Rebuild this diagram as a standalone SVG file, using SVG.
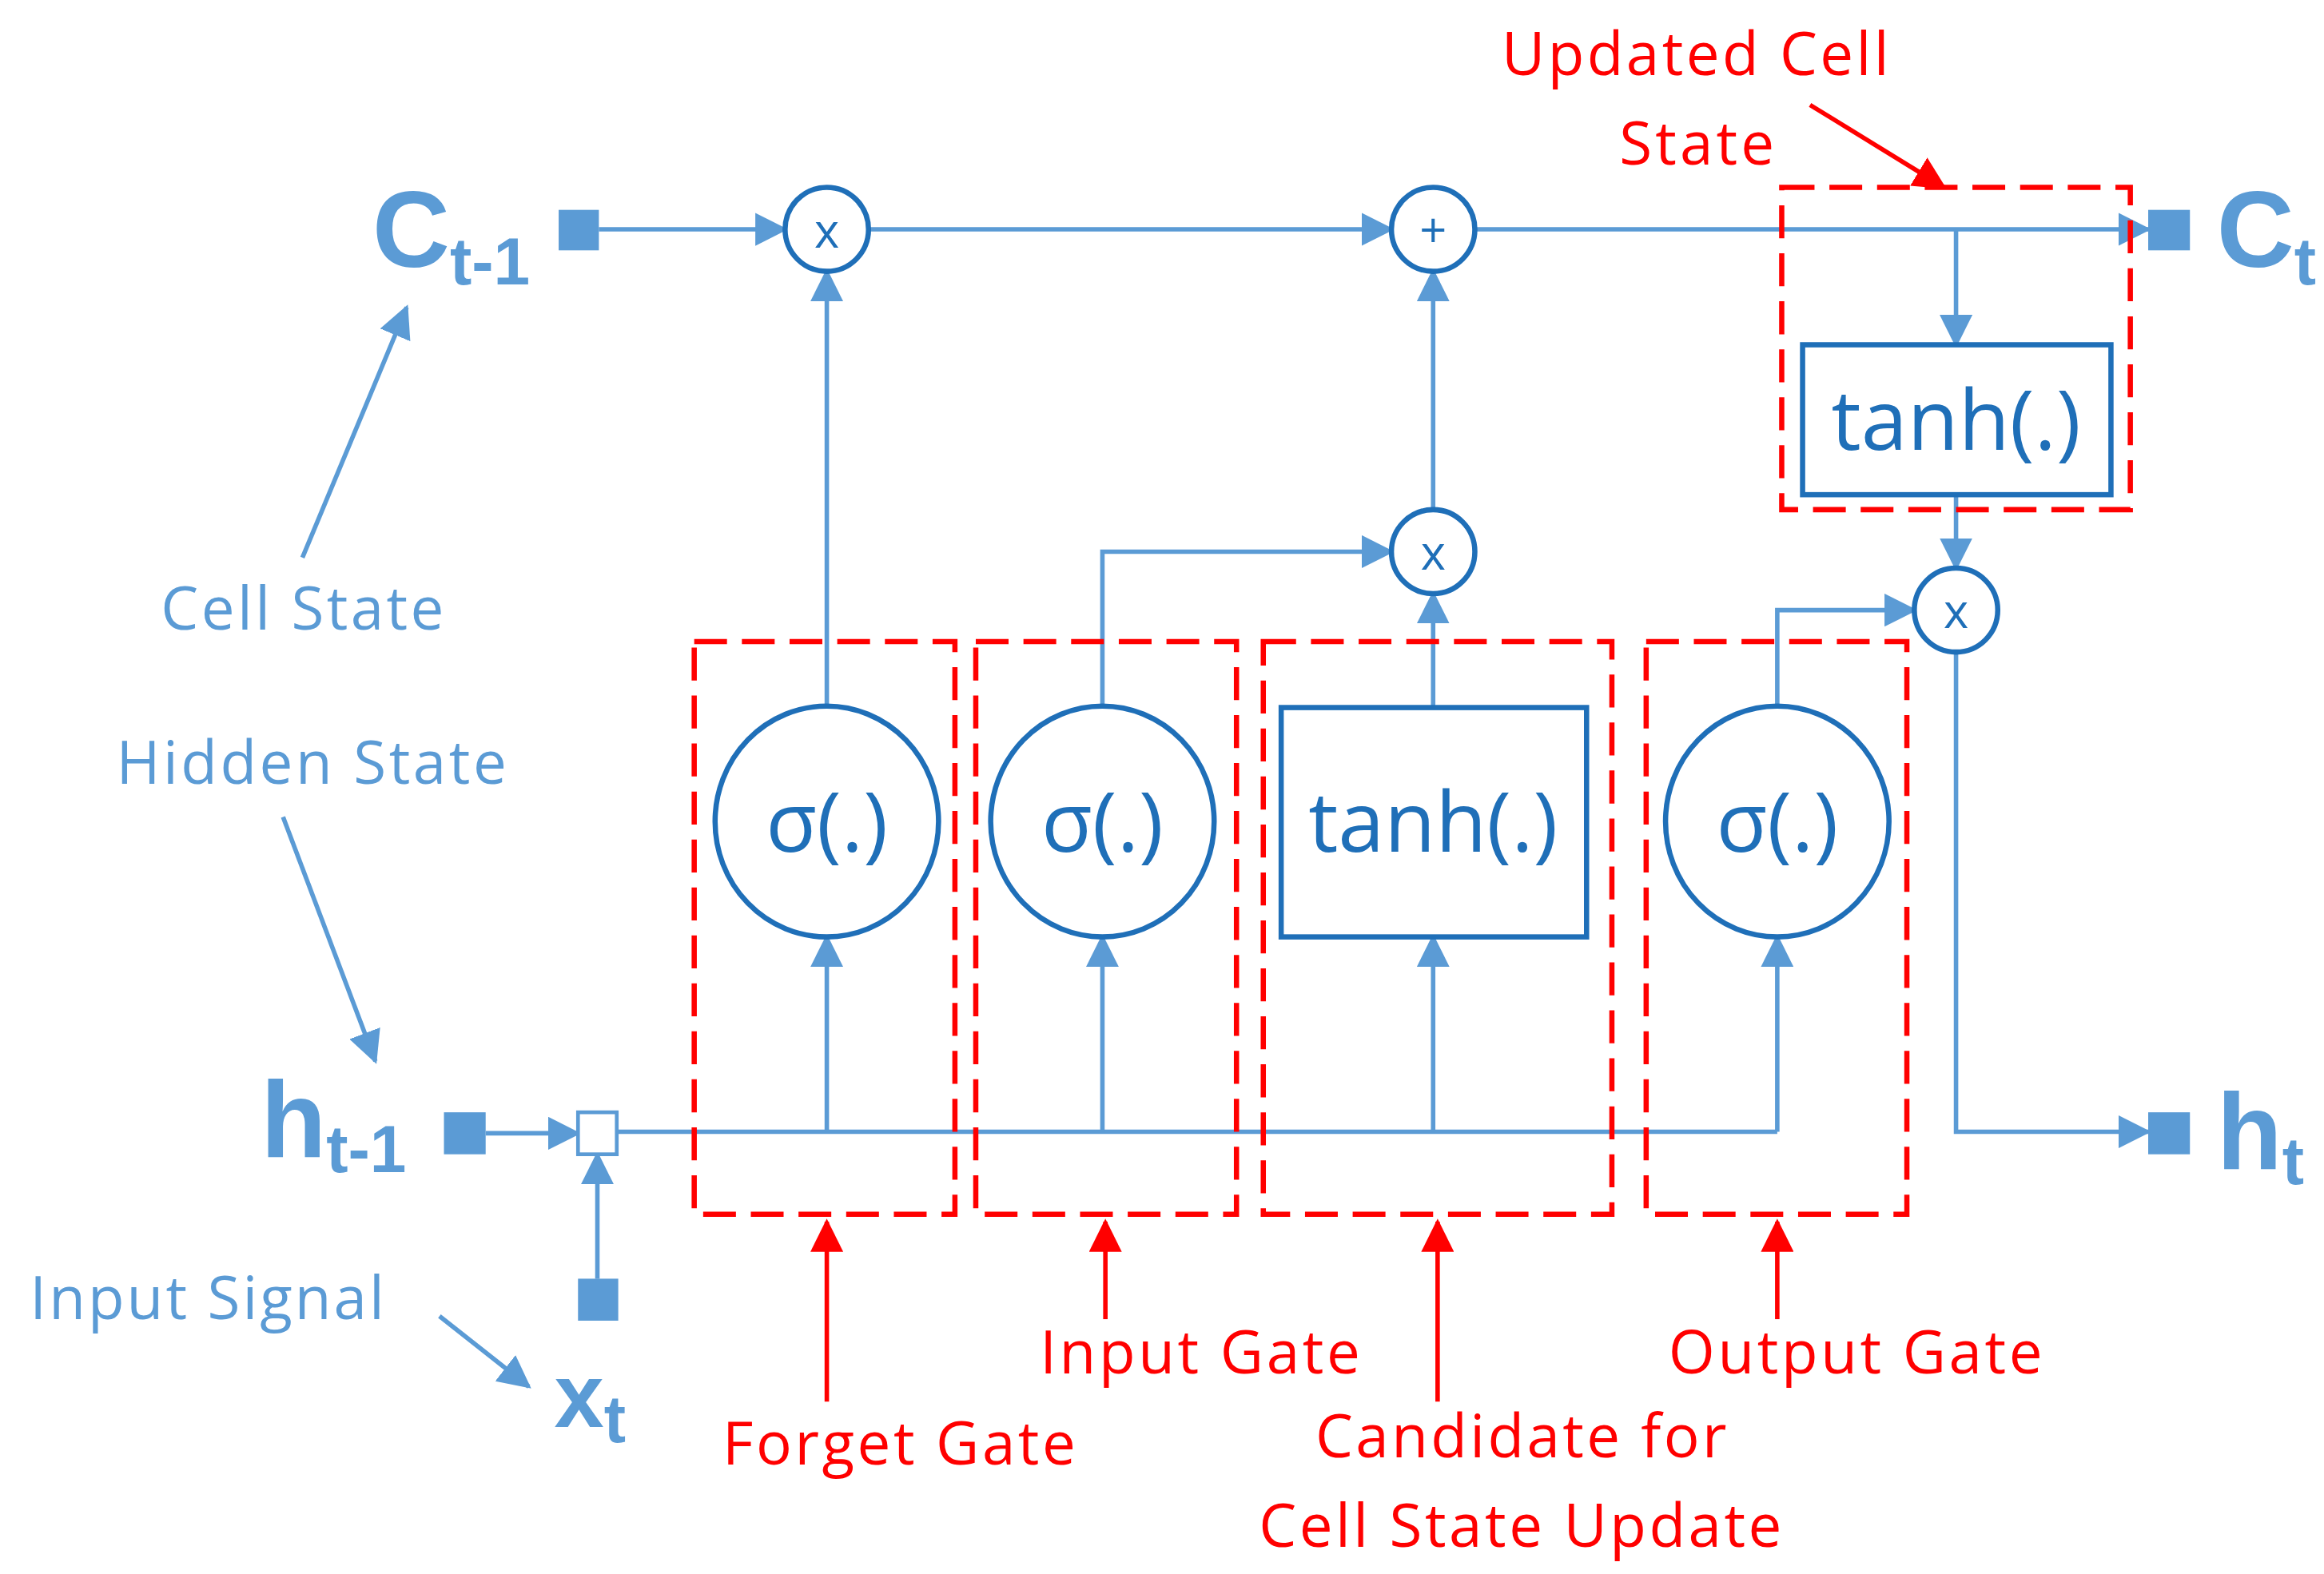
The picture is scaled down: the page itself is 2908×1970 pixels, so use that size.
<svg xmlns="http://www.w3.org/2000/svg" width="2908" height="1970" viewBox="0 0 2908 1970">
<style>
.ln{stroke:#5B9BD5;stroke-width:3;fill:none}
.nd{stroke:#1F6FB8;stroke-width:3.5;fill:#fff}
.rd{stroke:#FF0000;stroke-width:3.5;fill:none;stroke-dasharray:22,10}
.ra{stroke:#FF0000;stroke-width:3;fill:none}
.sq{fill:#5B9BD5}
.bt{font-family:"Open Sans","Liberation Sans",sans-serif;fill:#5B9BD5}
.nt{font-family:"Open Sans","Liberation Sans",sans-serif;fill:#1F6FB8;text-anchor:middle}
.rt{font-family:"Open Sans","Liberation Sans",sans-serif;fill:#FF0000;font-size:40px}
.big{font-family:"Liberation Sans",sans-serif;font-weight:bold;fill:#5B9BD5}
</style>
<defs>
<marker id="ab" markerWidth="8" markerHeight="8" refX="7" refY="4" orient="auto" markerUnits="userSpaceOnUse" viewBox="0 0 8 8"><path d="M0,0L8,4L0,8z" fill="#5B9BD5"/></marker>
<marker id="abig" markerWidth="22" markerHeight="22" refX="20" refY="11" orient="auto" markerUnits="userSpaceOnUse" viewBox="0 0 22 22"><path d="M0,0L22,11L0,22z" fill="#5B9BD5"/></marker>
<marker id="ar" markerWidth="22" markerHeight="22" refX="20" refY="11" orient="auto" markerUnits="userSpaceOnUse" viewBox="0 0 22 22"><path d="M0,0L22,11L0,22z" fill="#FF0000"/></marker>
</defs>
<g transform="scale(1.8641,1.8762)">
<g id="connectors">
<path class="ln" marker-end="url(#abig)" d="M402,153H527"/>
<path class="ln" marker-end="url(#abig)" d="M583,153H934"/>
<path class="ln" marker-end="url(#abig)" d="M990,153H1442"/>
<path class="ln" marker-end="url(#abig)" d="M1313,153V230"/>
<path class="ln" marker-end="url(#abig)" d="M1313,330V379"/>
<path class="ln" marker-end="url(#abig)" d="M1313,435V755H1442"/>
<path class="ln" marker-end="url(#abig)" d="M962,472V396"/>
<path class="ln" marker-end="url(#abig)" d="M962,340V181"/>
<path class="ln" marker-end="url(#abig)" d="M740,471V368H934"/>
<path class="ln" marker-end="url(#abig)" d="M555,471V181"/>
<path class="ln" marker-end="url(#abig)" d="M1193,471V407H1285"/>
<path class="ln" d="M414,755H1193"/>
<path class="ln" marker-end="url(#abig)" d="M555,755V625"/>
<path class="ln" marker-end="url(#abig)" d="M740,755V625"/>
<path class="ln" marker-end="url(#abig)" d="M962,755V625"/>
<path class="ln" marker-end="url(#abig)" d="M1193,755V625"/>
<path class="ln" marker-end="url(#abig)" d="M326,756H388"/>
<path class="ln" marker-end="url(#abig)" d="M401,853V770"/>
<path class="ln" marker-end="url(#abig)" d="M203,372L273,205"/>
<path class="ln" marker-end="url(#abig)" d="M190,545L252,708"/>
<path class="ln" marker-end="url(#abig)" d="M295,878L355,925"/>
<path class="ra" marker-end="url(#ar)" d="M555,935V815"/>
<path class="ra" marker-end="url(#ar)" d="M742,880V815"/>
<path class="ra" marker-end="url(#ar)" d="M965,935V815"/>
<path class="ra" marker-end="url(#ar)" d="M1193,880V815"/>
<path class="ra" marker-end="url(#ar)" d="M1215,70L1305,125"/>
</g>
<g id="gates">
<rect class="rd" x="466" y="428" width="175" height="382"/>
<rect class="rd" x="655" y="428" width="175" height="382"/>
<rect class="rd" x="848" y="428" width="234" height="382"/>
<rect class="rd" x="1105" y="428" width="175" height="382"/>
<rect class="rd" x="1196" y="125" width="234" height="215"/>
</g>
<g id="mul1"><circle class="nd" cx="555" cy="153" r="28"/><text class="nt" x="555" y="165" font-size="32">x</text></g>
<g id="add"><circle class="nd" cx="962" cy="153" r="28"/><text class="nt" x="962" y="165" font-size="32">+</text></g>
<g id="mul2"><circle class="nd" cx="962" cy="368" r="28"/><text class="nt" x="962" y="380" font-size="32">x</text></g>
<g id="mul3"><circle class="nd" cx="1313" cy="407" r="28"/><text class="nt" x="1313" y="419" font-size="32">x</text></g>
<g id="tanh2"><rect class="nd" x="1210" y="230" width="207" height="100"/><text class="nt" x="1313" y="300" font-size="56">tanh(.)</text></g>
<g id="forget"><ellipse class="nd" cx="555" cy="548" rx="75" ry="77"/><text class="nt" x="555" y="568" font-size="56">σ(.)</text></g>
<g id="input"><ellipse class="nd" cx="740" cy="548" rx="75" ry="77"/><text class="nt" x="740" y="568" font-size="56">σ(.)</text></g>
<g id="cand"><rect class="nd" x="860" y="472" width="205" height="153"/><text class="nt" x="962" y="568" font-size="56">tanh(.)</text></g>
<g id="output"><ellipse class="nd" cx="1193" cy="548" rx="75" ry="77"/><text class="nt" x="1193" y="568" font-size="56">σ(.)</text></g>
<g id="cprev"><rect class="sq" x="375" y="140" width="27" height="27"/><text class="big" x="250" y="178" font-size="72">C<tspan font-size="44" dy="12">t-1</tspan></text></g>
<g id="cnext"><rect class="sq" x="1442" y="140" width="28" height="27"/><text class="big" x="1488" y="178" font-size="72">C<tspan font-size="44" dy="12">t</tspan></text></g>
<g id="hprev"><rect class="sq" x="298" y="742" width="28" height="28"/><text class="big" x="175" y="772" font-size="72">h<tspan font-size="44" dy="10">t-1</tspan></text></g>
<g id="hnext"><rect class="sq" x="1442" y="742" width="28" height="28"/><text class="big" x="1488" y="780" font-size="72">h<tspan font-size="44" dy="10">t</tspan></text></g>
<g id="join"><rect x="388" y="742" width="26" height="28" fill="#fff" stroke="#5B9BD5" stroke-width="2.5"/></g>
<g id="xt"><rect class="sq" x="388" y="853" width="27" height="28"/><text class="big" x="372" y="952" font-size="60">x<tspan font-size="44" dy="10">t</tspan></text></g>
<g id="labels">
<text class="bt" x="108" y="420" font-size="40" textLength="190">Cell State</text>
<text class="bt" x="78" y="523" font-size="40" textLength="262">Hidden State</text>
<text class="bt" x="20" y="880" font-size="40" textLength="238">Input Signal</text>
<text class="rt" x="485" y="977" textLength="237">Forget Gate</text>
<text class="rt" x="698" y="916" textLength="215">Input Gate</text>
<text class="rt" x="883" y="972" textLength="276">Candidate for</text>
<text class="rt" x="845" y="1032" textLength="351">Cell State Update</text>
<text class="rt" x="1120" y="916" textLength="251">Output Gate</text>
<text class="rt" x="1008" y="50" textLength="260">Updated Cell</text>
<text class="rt" x="1087" y="110" textLength="104">State</text>
</g>
</g>
</svg>
